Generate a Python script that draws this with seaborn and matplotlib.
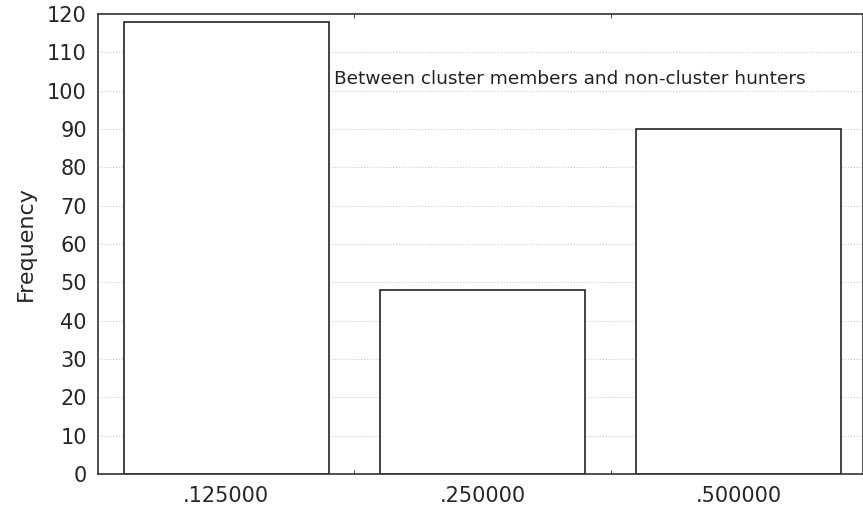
import pandas as pd
import seaborn as sns
import matplotlib.pyplot as plt
from matplotlib.ticker import FixedLocator

categories = ['.125000', '.250000', '.500000']
frequency = [118, 48, 90]

df = pd.DataFrame({'value': categories, 'Frequency': frequency})

sns.set_style('white')
plt.rcParams['font.family'] = ['DejaVu Sans']

fig = plt.figure(figsize=(8.63, 5.09), dpi=100)
ax = fig.add_axes([0.1136, 0.0688, 0.8864, 0.9037])

sns.barplot(data=df, x='value', y='Frequency', color='white', edgecolor='#222222',
            linewidth=1.2, width=0.8, saturation=1, ax=ax, zorder=2)

ax.set_xlim(-0.5, 2.485)
ax.set_ylim(0, 120)
ax.set_yticks(range(0, 121, 10))
ax.yaxis.grid(True, linestyle=(0, (1, 2)), color='#c0c0c0', linewidth=0.7, zorder=0)
ax.set_axisbelow(True)

ax.xaxis.set_minor_locator(FixedLocator([0.5, 1.5]))
ax.tick_params(axis='x', which='major', length=0, labelsize=15, pad=9)
ax.tick_params(axis='x', which='minor', direction='in', length=3, top=True, bottom=True)
ax.tick_params(axis='y', length=0, labelsize=15, pad=8)

for s in ax.spines.values():
    s.set_color('#333333')
    s.set_linewidth(1.2)

ax.set_xlabel('')
ax.set_ylabel('Frequency', fontsize=16, labelpad=8)

ax.text(0.42, 103, 'Between cluster members and non-cluster hunters',
        fontsize=13.3, va='center', ha='left', color='#222222')

fig.savefig('out.png', dpi=100)
